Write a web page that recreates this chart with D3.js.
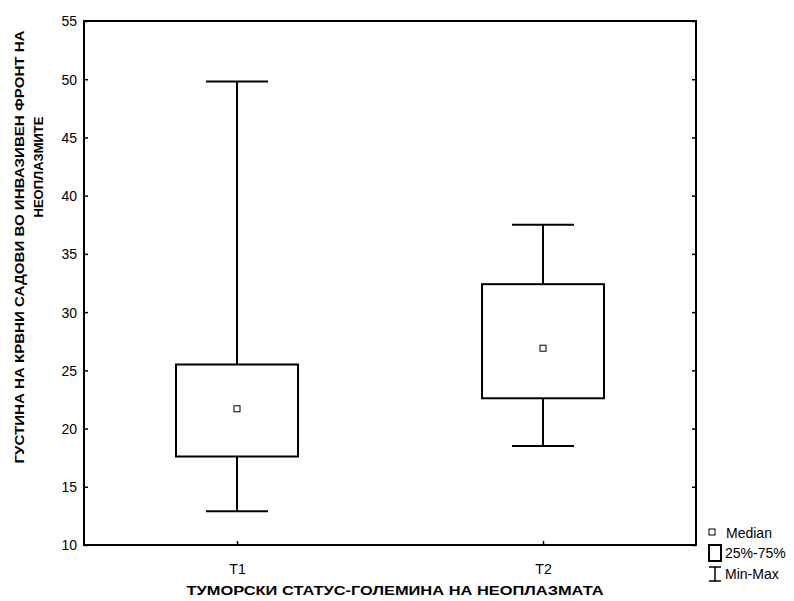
<!DOCTYPE html>
<head>
  <meta charset="utf-8">
  <title>Box plot</title>
  <style>
    body { margin: 0; background: #fff; }
    text { font-family: "Liberation Sans", Arial, sans-serif; fill: #000; }
  </style>
</head>
<body>
<div id="chart"></div>
<script src="https://cdn.jsdelivr.net/npm/d3@7/dist/d3.min.js"></script>
<script>

// values
var groups = ["T1", "T2"];
var minVals = [12.9, 18.5];
var q1Vals = [17.6, 22.6];
var medianVals = [21.7, 26.9];
var q3Vals = [25.5, 32.4];
var maxVals = [49.8, 37.5];
var yTicks = [10, 15, 20, 25, 30, 35, 40, 45, 50, 55];

var width = 794, height = 601;
var plotLeft = 84, plotRight = 696, plotTop = 21, plotBottom = 545;

var svg = d3.select("#chart").append("svg")
    .attr("width", width)
    .attr("height", height);

var x = d3.scalePoint().domain(groups).range([plotLeft, plotRight]).padding(0.5);
var y = d3.scaleLinear().domain([10, 55]).range([plotBottom, plotTop]);

var data = groups.map(function(g, i) {
  return {name: g, min: minVals[i], q1: q1Vals[i], med: medianVals[i], q3: q3Vals[i], max: maxVals[i]};
});

// frame
svg.append("rect")
    .attr("x", plotLeft).attr("y", plotTop)
    .attr("width", plotRight - plotLeft).attr("height", plotBottom - plotTop)
    .attr("fill", "none").attr("stroke", "#000").attr("stroke-width", 2);

// left axis, ticks pointing inwards
var yAxis = svg.append("g")
    .attr("transform", "translate(" + plotLeft + ",0)")
    .call(d3.axisRight(y).tickValues(yTicks).tickSize(4).tickFormat(""));
yAxis.select(".domain").remove();
yAxis.selectAll("line").attr("stroke-width", 1.5);

yAxis.selectAll(".tick").append("text")
    .attr("x", -7).attr("dy", "0.35em")
    .attr("text-anchor", "end")
    .style("font-size", "14px")
    .text(function(d) { return d; });

// right axis mirror
var yAxisR = svg.append("g")
    .attr("transform", "translate(" + plotRight + ",0)")
    .call(d3.axisLeft(y).tickValues(yTicks).tickSize(4).tickFormat(""));
yAxisR.select(".domain").remove();
yAxisR.selectAll("line").attr("stroke-width", 1.5);

// bottom axis
var xAxis = svg.append("g")
    .attr("transform", "translate(0," + plotBottom + ")")
    .call(d3.axisTop(x).tickSize(4).tickFormat(""));
xAxis.select(".domain").remove();
xAxis.selectAll("line").attr("stroke-width", 1.5);
xAxis.selectAll(".tick").append("text")
    .attr("y", 29)
    .attr("text-anchor", "middle")
    .style("font-size", "14px")
    .text(function(d) { return d; });

var boxW = 122, capW = 62;

var box = svg.append("g").selectAll("g")
    .data(data)
    .enter().append("g");

// whiskers
box.append("line")
    .attr("x1", function(d) { return x(d.name); })
    .attr("x2", function(d) { return x(d.name); })
    .attr("y1", function(d) { return y(d.max); })
    .attr("y2", function(d) { return y(d.min); })
    .attr("stroke", "#000").attr("stroke-width", 2);

box.append("line")
    .attr("x1", function(d) { return x(d.name) - capW / 2; })
    .attr("x2", function(d) { return x(d.name) + capW / 2; })
    .attr("y1", function(d) { return y(d.max); })
    .attr("y2", function(d) { return y(d.max); })
    .attr("stroke", "#000").attr("stroke-width", 2);

box.append("line")
    .attr("x1", function(d) { return x(d.name) - capW / 2; })
    .attr("x2", function(d) { return x(d.name) + capW / 2; })
    .attr("y1", function(d) { return y(d.min); })
    .attr("y2", function(d) { return y(d.min); })
    .attr("stroke", "#000").attr("stroke-width", 2);

// box
box.append("rect")
    .attr("x", function(d) { return x(d.name) - boxW / 2; })
    .attr("y", function(d) { return y(d.q3); })
    .attr("width", boxW)
    .attr("height", function(d) { return y(d.q1) - y(d.q3); })
    .attr("fill", "#fff").attr("stroke", "#000").attr("stroke-width", 2);

// median marker
box.append("rect")
    .attr("x", function(d) { return x(d.name) - 3; })
    .attr("y", function(d) { return y(d.med) - 3; })
    .attr("width", 6).attr("height", 6)
    .attr("fill", "#fff").attr("stroke", "#000").attr("stroke-width", 1);

// axis titles
svg.append("text")
    .attr("x", 395).attr("y", 595)
    .attr("text-anchor", "middle")
    .style("font-size", "13px").style("font-weight", "bold")
    .attr("textLength", 417).attr("lengthAdjust", "spacingAndGlyphs")
    .text("ТУМОРСКИ СТАТУС-ГОЛЕМИНА НА НЕОПЛАЗМАТА");

svg.append("text")
    .attr("transform", "translate(24,247) rotate(-90)")
    .attr("text-anchor", "middle")
    .style("font-size", "13px").style("font-weight", "bold")
    .attr("textLength", 433).attr("lengthAdjust", "spacingAndGlyphs")
    .text("ГУСТИНА НА КРВНИ САДОВИ ВО ИНВАЗИВЕН ФРОНТ НА");

svg.append("text")
    .attr("transform", "translate(43,167) rotate(-90)")
    .attr("text-anchor", "middle")
    .style("font-size", "13px").style("font-weight", "bold")
    .text("НЕОПЛАЗМИТЕ");

// legend
var lg = svg.append("g");
lg.append("rect")
    .attr("x", 709).attr("y", 529).attr("width", 6).attr("height", 6)
    .attr("fill", "#fff").attr("stroke", "#000").attr("stroke-width", 1);
lg.append("text").attr("x", 726).attr("y", 538)
    .style("font-size", "14px").text("Median");

lg.append("rect")
    .attr("x", 709).attr("y", 545).attr("width", 12).attr("height", 16)
    .attr("fill", "#fff").attr("stroke", "#000").attr("stroke-width", 2);
lg.append("text").attr("x", 725).attr("y", 558)
    .style("font-size", "14px").text("25%-75%");

lg.append("line").attr("x1", 709).attr("x2", 721).attr("y1", 567).attr("y2", 567)
    .attr("stroke", "#000").attr("stroke-width", 1.5);
lg.append("line").attr("x1", 715).attr("x2", 715).attr("y1", 567).attr("y2", 581)
    .attr("stroke", "#000").attr("stroke-width", 1.5);
lg.append("line").attr("x1", 709).attr("x2", 721).attr("y1", 581).attr("y2", 581)
    .attr("stroke", "#000").attr("stroke-width", 1.5);
lg.append("text").attr("x", 725).attr("y", 579)
    .style("font-size", "14px").text("Min-Max");

</script>
</body>
</html>
